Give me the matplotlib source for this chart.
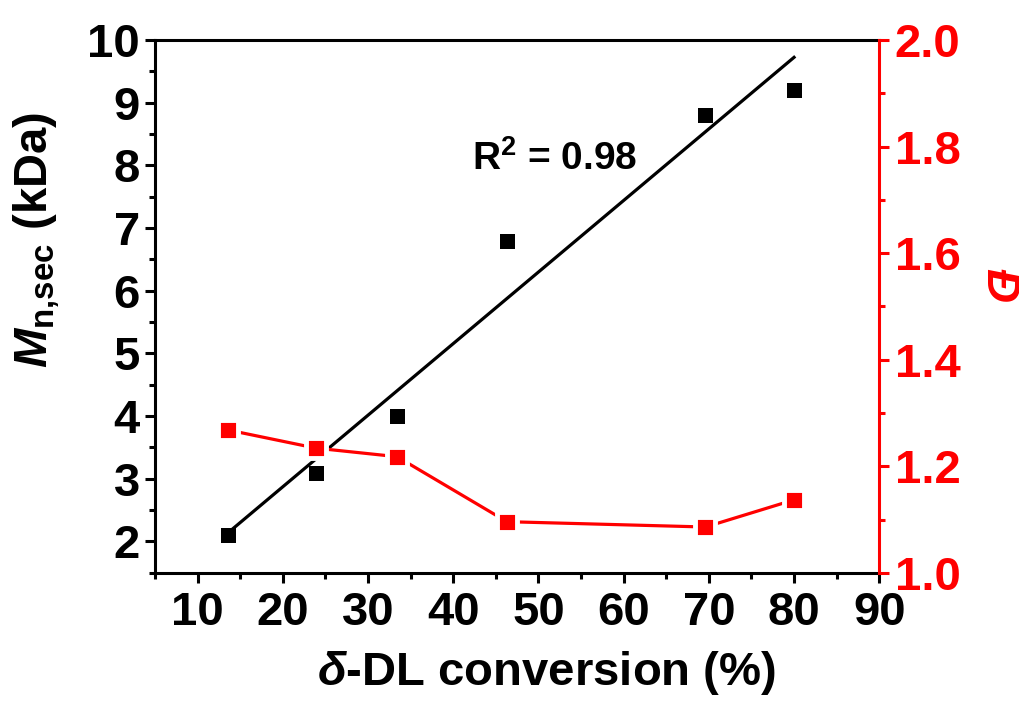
import numpy as np
import matplotlib
matplotlib.use('Agg')
import matplotlib.pyplot as plt
from matplotlib.ticker import MultipleLocator

plt.rcParams['font.family'] = ['Liberation Sans', 'DejaVu Sans']
plt.rcParams['font.weight'] = 'bold'
plt.rcParams['mathtext.fontset'] = 'custom'
plt.rcParams['mathtext.rm'] = 'Liberation Sans'
plt.rcParams['mathtext.it'] = 'Liberation Sans:italic:bold'
plt.rcParams['mathtext.bf'] = 'Liberation Sans:bold'

# delta-DL conversion (%) and SEC results
conversion = [13.6, 23.9, 33.4, 46.3, 69.6, 80.0]
mn_sec = [2.1, 3.1, 4.0, 6.8, 8.8, 9.2]          # kDa
dispersity = [1.268, 1.234, 1.218, 1.096, 1.086, 1.137]
r2_label = 'R$^{2}$ = 0.98'

fs = 34
fig = plt.figure(figsize=(10.2, 7.02), dpi=100)
ax = fig.add_axes([0.152, 0.184, 0.710, 0.759])
ax2 = ax.twinx()

# linear fit of Mn vs conversion
slope, icpt = np.polyfit(conversion, mn_sec, 1)
xfit = np.array([conversion[0], conversion[-1]])
ax.plot(xfit, slope * xfit + icpt, '-', color='black', lw=2.3, zorder=2)
ax.plot(conversion, mn_sec, 's', color='black', ms=10.8, mew=0, zorder=3)
ax.text(42.2, 7.93, r2_label, fontsize=28, fontweight='bold', ha='left', va='baseline')

ax2.plot(conversion, dispersity, '-', color='red', lw=2.3, marker='s', ms=15.0,
         mfc='red', mec='white', mew=3.5)

ax.set_xlim(5, 90)
ax.set_ylim(1.5, 10)
ax2.set_ylim(1.0, 2.0)

ax.xaxis.set_major_locator(MultipleLocator(10))
ax.xaxis.set_minor_locator(MultipleLocator(5))
ax.yaxis.set_major_locator(MultipleLocator(1))
ax.yaxis.set_minor_locator(MultipleLocator(0.5))
ax2.yaxis.set_major_locator(MultipleLocator(0.2))
ax2.yaxis.set_minor_locator(MultipleLocator(0.1))

ax.set_yticks(np.arange(2, 11, 1))
ax2.set_yticks(np.round(np.arange(1.0, 2.01, 0.2), 1))
ax2.set_yticklabels(['%.1f' % v for v in np.arange(1.0, 2.01, 0.2)])

for a in (ax, ax2):
    for s in a.spines.values():
        s.set_linewidth(2.2)
ax.spines['right'].set_visible(False)
ax2.spines['right'].set_color('red')
ax2.spines['left'].set_visible(False)
ax2.spines['top'].set_visible(False)
ax2.spines['bottom'].set_visible(False)

ax.tick_params(axis='both', which='major', direction='out', length=7, width=2.2,
               labelsize=fs, pad=4)
ax.tick_params(axis='both', which='minor', direction='out', length=4, width=2.2)
ax.tick_params(axis='x', which='major', pad=6)
ax2.tick_params(axis='y', which='major', direction='out', length=7, width=2.2,
                labelsize=fs, pad=4, colors='red')
ax2.tick_params(axis='y', which='minor', direction='out', length=4, width=2.2, colors='red')

ax.set_xlabel(r'$\delta$-DL conversion (%)', fontsize=fs, fontweight='bold')
ax.xaxis.set_label_coords(0.541, -0.143)
ax.xaxis.label.set_va('top')
ax.set_ylabel(r'$M_{\mathrm{n{,}sec}}$ (kDa)', fontsize=fs, fontweight='bold')
ax.yaxis.set_label_coords(-0.128, 0.625)

ax2.set_ylabel('Đ', fontsize=fs, fontweight='bold', fontstyle='italic', color='red')
ax2.yaxis.label.set(rotation=-90, va='center', ha='center', rotation_mode='default')
ax2.yaxis.set_label_coords(1.164, 0.54)

fig.savefig('out.png', dpi=100, facecolor='white')
